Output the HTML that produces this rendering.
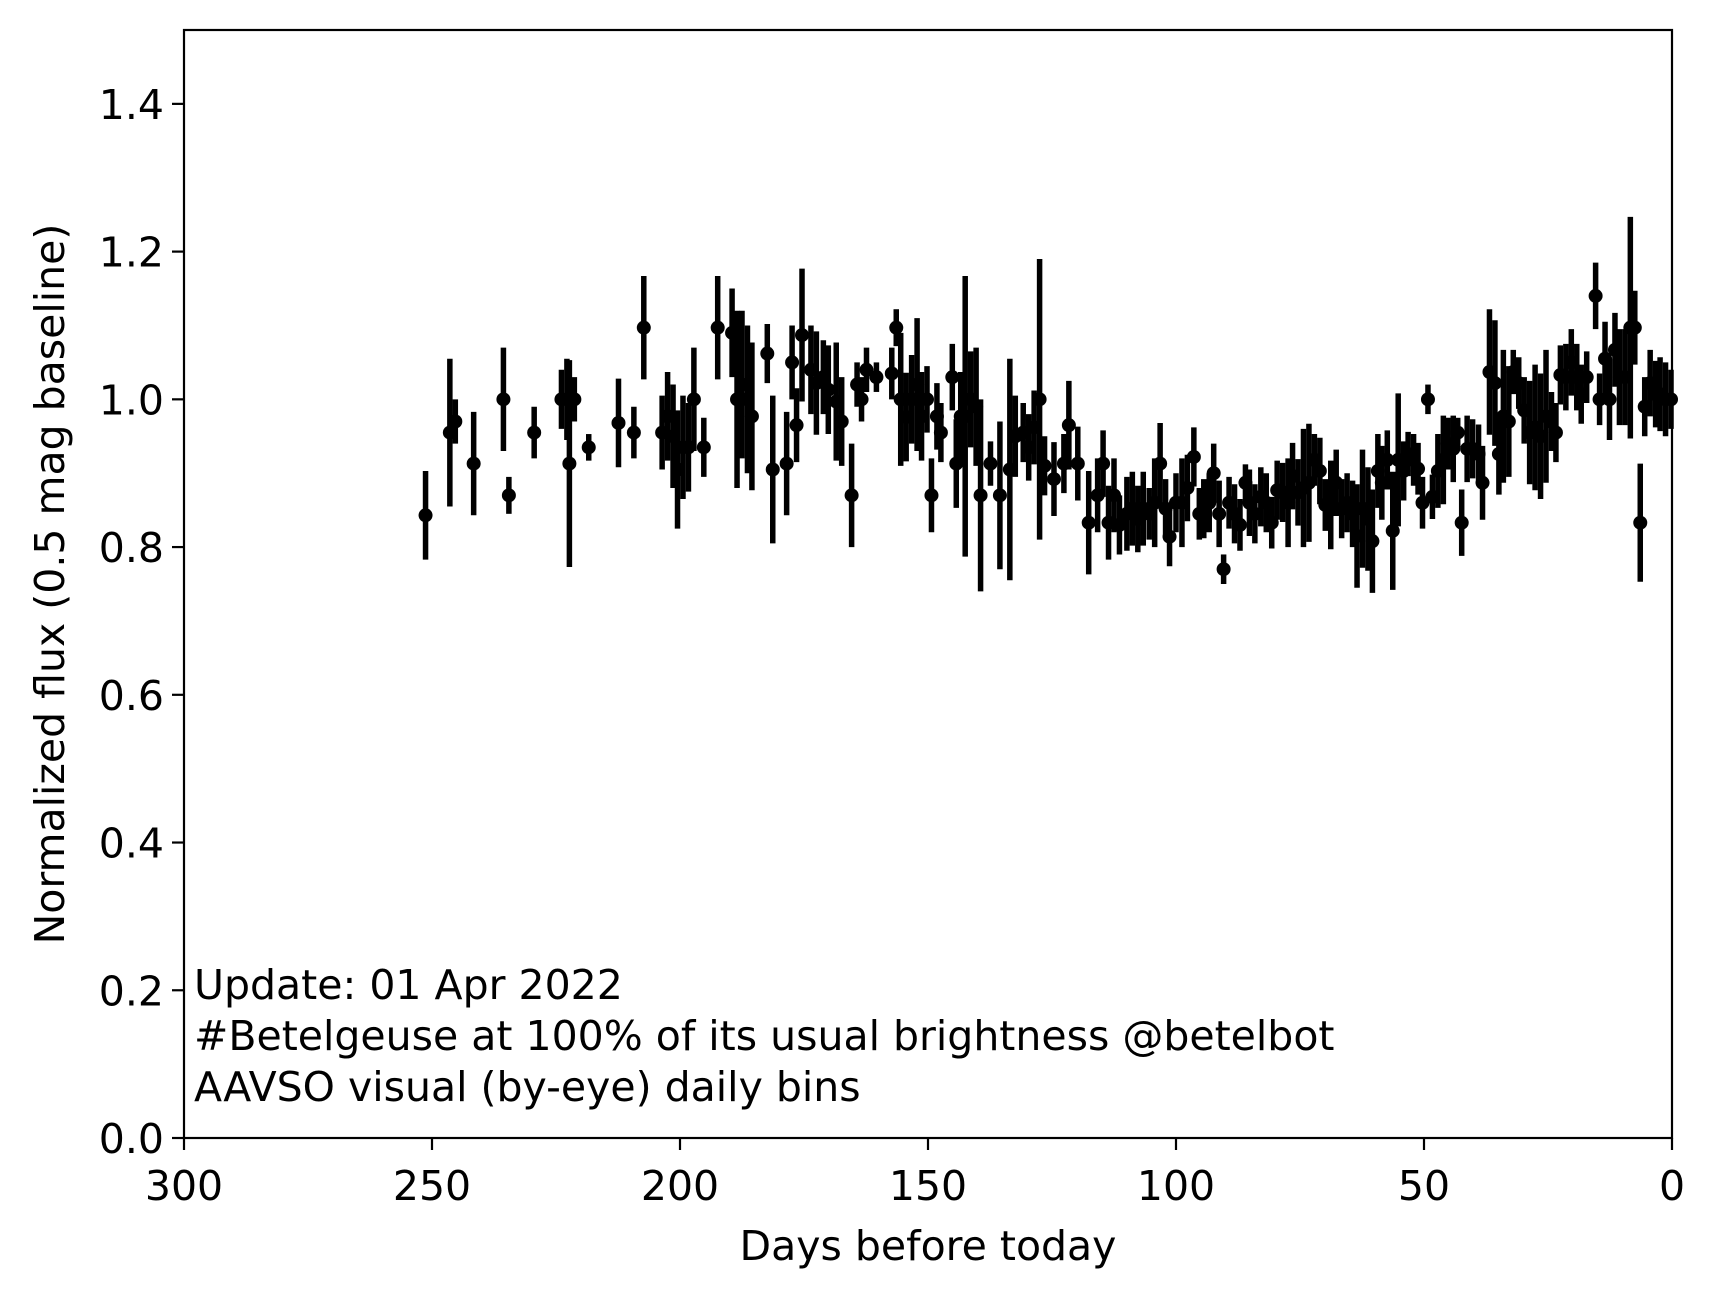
<!DOCTYPE html>
<html><head><meta charset="utf-8"><style>
html,body{margin:0;padding:0;background:#fff;}
svg{display:block;font-family:"DejaVu Sans","Liberation Sans",sans-serif;}
</style></head><body>
<svg id="chart" width="1715" height="1298" viewBox="0 0 1715 1298" xmlns="http://www.w3.org/2000/svg">
<rect x="0" y="0" width="1715" height="1298" fill="#fff"/>
<g id="marks"></g>
<g id="axes"></g>
<text x="928" y="1260" font-size="41" text-anchor="middle">Days before today</text>
<text transform="translate(64,584) rotate(-90)" font-size="41" text-anchor="middle">Normalized flux (0.5 mag baseline)</text>
<text x="194" y="999" font-size="41">Update: 01 Apr 2022</text>
<text x="194" y="1050" font-size="41">#Betelgeuse at 100% of its usual brightness @betelbot</text>
<text x="194" y="1101" font-size="41">AAVSO visual (by-eye) daily bins</text>
</svg>
<script>
const days=[251.3,246.4,245.3,241.6,235.6,234.5,229.4,223.9,222.8,222.3,221.3,218.4,212.4,209.3,207.3,203.6,202.5,201.4,200.5,199.4,198.3,197.2,195.2,192.4,189.5,188.5,187.5,186.4,185.5,182.4,181.3,178.5,177.4,176.5,175.4,173.6,172.5,171.1,170.1,168.5,167.4,165.4,164.3,163.4,162.4,160.4,157.3,156.4,155.5,154.4,153.3,152.2,151.3,150.2,149.3,148.2,147.4,145.1,144.3,143.4,142.5,141.4,140.3,139.4,137.4,135.5,133.5,132.4,130.8,129.7,128.6,127.5,126.5,124.6,122.6,121.6,119.8,117.6,115.8,114.7,113.6,112.5,111.4,109.9,108.8,107.7,106.6,105.4,104.3,103.2,102.1,101.3,100.0,98.8,97.7,96.4,95.3,94.4,93.3,92.4,91.3,90.4,89.3,88.2,87.1,86.0,85.2,84.1,82.9,81.8,80.7,79.6,78.5,77.4,76.5,75.4,74.3,73.2,72.1,71.0,69.9,68.8,67.7,66.6,65.5,64.4,63.5,62.4,61.3,60.4,59.3,58.5,57.4,56.3,55.2,54.1,53.2,52.1,51.2,50.3,49.2,48.3,47.2,46.1,45.2,44.1,43.2,42.4,41.3,40.2,39.0,38.2,36.8,35.7,34.9,34.0,32.9,32.0,30.9,29.8,28.7,27.6,26.5,25.4,24.3,23.4,22.5,21.4,20.3,19.2,18.3,17.2,15.4,14.6,13.5,12.6,11.5,10.6,9.5,8.4,7.5,6.4,5.5,4.4,3.3,2.4,1.3,0.2];
const flux=[.843,.955,.97,.913,1.0,.87,.955,1.0,1.0,.913,1.0,.935,.968,.955,1.097,.955,.977,.95,.905,.935,.935,1.0,.935,1.097,1.09,1.0,1.02,1.0,.977,1.062,.905,.913,1.05,.965,1.087,1.04,1.022,1.03,1.013,.997,.97,.87,1.02,1.0,1.04,1.03,1.035,1.097,1.0,.976,1.0,1.02,.977,1.0,.87,.977,.955,1.03,.913,.977,.977,1.0,.99,.87,.913,.87,.905,.95,.955,.935,.962,1.0,.91,.892,.913,.965,.913,.833,.87,.913,.833,.87,.83,.845,.852,.838,.852,.845,.86,.913,.852,.814,.86,.86,.88,.922,.845,.852,.86,.9,.845,.77,.86,.845,.83,.887,.86,.845,.868,.86,.833,.877,.874,.86,.896,.874,.88,.887,.918,.903,.857,.857,.887,.852,.86,.845,.815,.852,.838,.808,.903,.887,.918,.822,.918,.903,.926,.918,.906,.86,1.0,.868,.903,.918,.94,.933,.955,.833,.933,.933,.926,.887,1.037,1.022,.926,.977,.97,1.037,1.022,.985,.955,.962,.95,.977,.97,.955,1.033,1.03,1.05,1.03,1.007,1.03,1.14,1.0,1.055,1.0,1.067,1.03,1.03,1.097,1.097,.833,.99,1.022,1.007,1.007,1.0,1.0];
const errs=[.06,.1,.03,.07,.07,.025,.035,.04,.055,.14,.03,.018,.06,.035,.07,.05,.06,.07,.08,.07,.06,.07,.04,.07,.06,.12,.1,.1,.1,.04,.1,.07,.05,.05,.09,.06,.07,.05,.06,.08,.06,.07,.03,.03,.03,.02,.035,.025,.09,.06,.06,.09,.06,.045,.05,.045,.04,.045,.06,.06,.19,.065,.08,.13,.03,.1,.15,.055,.04,.045,.05,.19,.04,.05,.04,.06,.05,.07,.05,.045,.05,.05,.04,.05,.05,.045,.05,.035,.06,.055,.04,.04,.04,.06,.045,.04,.035,.04,.04,.04,.045,.02,.035,.04,.035,.025,.045,.04,.04,.04,.035,.04,.04,.06,.045,.045,.08,.08,.035,.045,.035,.06,.045,.04,.04,.045,.07,.08,.07,.07,.05,.05,.04,.08,.09,.04,.03,.035,.035,.035,.02,.03,.05,.06,.035,.045,.02,.045,.045,.04,.04,.05,.085,.085,.055,.09,.075,.03,.035,.045,.07,.085,.085,.09,.04,.04,.04,.045,.045,.045,.04,.035,.045,.035,.05,.055,.05,.065,.065,.15,.05,.08,.04,.045,.045,.05,.05,.04];
const xTicks=[300,250,200,150,100,50,0];
const yTicks=[0.0,0.2,0.4,0.6,0.8,1.0,1.2,1.4];
const L=184,R=1672,T=30,B=1138,XMIN=0,XMAX=300,YMIN=0,YMAX=1.5;
const NS="http://www.w3.org/2000/svg";
function xs(d){return L+(XMAX-d)/(XMAX-XMIN)*(R-L);}
function ys(v){return B-(v-YMIN)/(YMAX-YMIN)*(B-T);}
function mk(tag,attrs,parent){const e=document.createElementNS(NS,tag);for(const k in attrs)e.setAttribute(k,attrs[k]);parent.appendChild(e);return e;}
const marks=document.getElementById('marks');
days.forEach((d,i)=>{
  const ln=mk('line',{x1:xs(d),x2:xs(d),y1:ys(flux[i]-errs[i]),y2:ys(flux[i]+errs[i]),stroke:'#000','stroke-width':5.5},marks);
  
  
});
days.forEach((d,i)=>{
  const c=mk('circle',{cx:xs(d),cy:ys(flux[i]),r:7,fill:'#000'},marks);
  
  
});
const axes=document.getElementById('axes');
const fr=mk('rect',{x:L,y:T,width:R-L,height:B-T,fill:'none',stroke:'#000','stroke-width':2.2},axes);


xTicks.forEach(t=>{
  const tk=mk('line',{x1:xs(t),x2:xs(t),y1:B,y2:B+12,stroke:'#000','stroke-width':2.2},axes);
  
  
  const tx=mk('text',{x:xs(t),y:1200,'font-size':41,'text-anchor':'middle'},axes);
  tx.textContent=String(t);
  
  
});
yTicks.forEach(t=>{
  const tk=mk('line',{x1:L-12,x2:L,y1:ys(t),y2:ys(t),stroke:'#000','stroke-width':2.2},axes);
  
  
  const tx=mk('text',{x:L-20,y:ys(t)+15,'font-size':41,'text-anchor':'end'},axes);
  tx.textContent=t.toFixed(1);
  
  
});
</script>
</body></html>
